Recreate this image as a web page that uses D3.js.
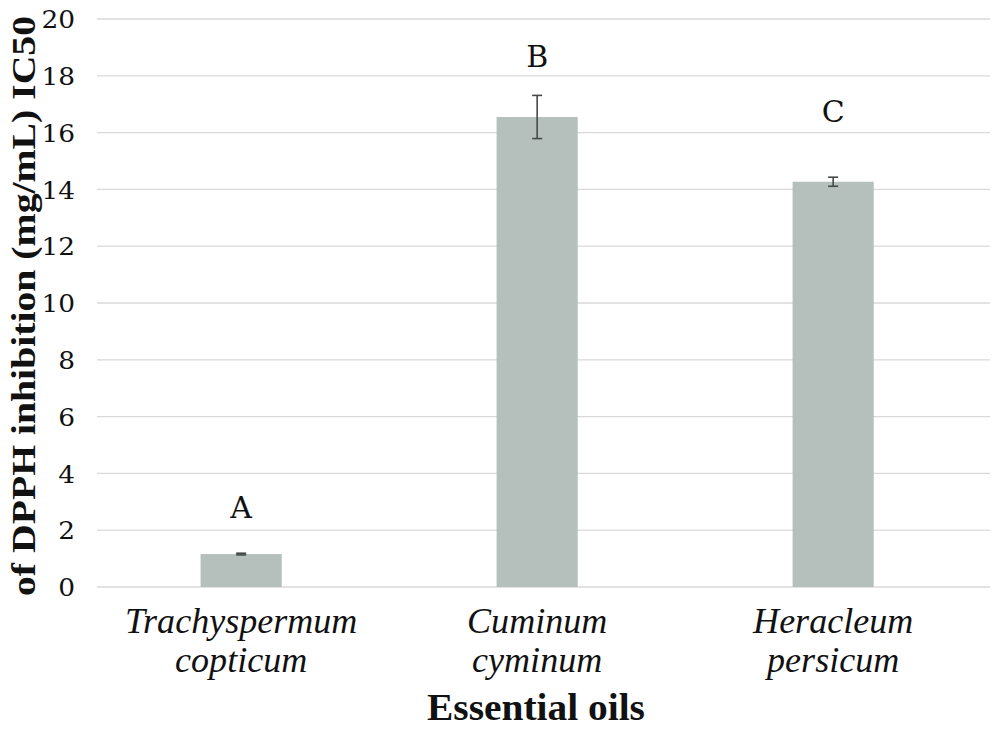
<!DOCTYPE html>
<html><head><meta charset="utf-8">
<script src="https://cdn.jsdelivr.net/npm/d3@7"></script>
<style>body{margin:0;background:#fff}svg{display:block}</style>
</head><body>
<svg id="chart" width="1000" height="733"></svg>
<script>
const categories = [["Trachyspermum","copticum"],["Cuminum","cyminum"],["Heracleum","persicum"]];
const values = [1.16, 16.55, 14.27];
const errors = [0.03, 0.76, 0.16];
const letters = ["A","B","C"];
const letterLevels = [2.43, 18.31, 16.37];
const yTicks = [0,2,4,6,8,10,12,14,16,18,20];
const yTitle = "of DPPH inhibition (mg/mL) IC50";
const xTitle = "Essential oils";

const svg = d3.select("#chart");
const W = 1000, H = 733;
const gridLeft = 97, gridRight = 990;
const x = d3.scaleBand().domain(d3.range(categories.length)).range([97, 977.3])
  .paddingInner(0.726).paddingOuter(0.35);
const y = d3.scaleLinear().domain([0,20]).range([587, 19]);

function fitWidth(sel, target){
  sel.each(function(){
    const w = this.getComputedTextLength();
    const k = target / w;
    const t = d3.select(this).attr("transform") || "";
    d3.select(this).attr("transform", t + ` scale(${k},1)`);
  });
}

// gridlines
svg.append("g").selectAll("line").data(yTicks).join("line")
  .attr("x1", gridLeft).attr("x2", gridRight)
  .attr("y1", d=>y(d)).attr("y2", d=>y(d))
  .attr("stroke", "#d9d9d9").attr("stroke-width", 1.3);

// y tick labels
const yAxis = d3.axisLeft(y).tickValues(yTicks).tickSize(0).tickPadding(0);
const ga = svg.append("g").attr("transform", `translate(75,0)`).call(yAxis);
ga.select(".domain").remove();
ga.selectAll(".tick text").attr("x", null)
  .attr("font-family","DejaVu Serif, serif").attr("font-size",24).attr("fill","#111").attr("dy","0.36em")
  .attr("transform","scale(1.1,1)");

// bars
svg.append("g").selectAll("rect").data(values).join("rect")
  .attr("x", (d,i)=>x(i)).attr("width", x.bandwidth())
  .attr("y", d=>y(d)).attr("height", d=>y(0)-y(d))
  .attr("fill", "#b5c0bc");

// error bars
const eg = svg.append("g").attr("stroke","#454a49").attr("stroke-width",1.6);
values.forEach((v,i)=>{
  const cx = x(i)+x.bandwidth()/2;
  const e = errors[i];
  eg.append("line").attr("x1",cx).attr("x2",cx).attr("y1",y(v+e)).attr("y2",y(v-e));
  eg.append("line").attr("x1",cx-5).attr("x2",cx+5).attr("y1",y(v+e)).attr("y2",y(v+e));
  eg.append("line").attr("x1",cx-5).attr("x2",cx+5).attr("y1",y(v-e)).attr("y2",y(v-e));
});

// letters
svg.append("g").selectAll("text").data(letters).join("text")
  .attr("x",(d,i)=>x(i)+x.bandwidth()/2)
  .attr("y",(d,i)=>y(letterLevels[i]))
  .attr("text-anchor","middle")
  .attr("font-family","DejaVu Serif, serif").attr("font-size",30).attr("fill","#111")
  .text(d=>d);

// category labels
const cg = svg.append("g");
categories.forEach((c,i)=>{
  const cx = x(i)+x.bandwidth()/2;
  c.forEach((t,j)=>{
    cg.append("text")
      .attr("transform",`translate(${cx},${633+j*39}) scale(1.03,1)`)
      .attr("text-anchor","middle")
      .attr("font-family","Liberation Serif, serif").attr("font-style","italic").attr("font-size",35)
      .attr("fill","#111")
      .text(t);
  });
});

// x title
svg.append("text").attr("transform","translate(536,720)")
  .attr("text-anchor","middle")
  .attr("font-family","Liberation Serif, serif").attr("font-weight","bold").attr("font-size",37)
  .attr("fill","#111").text(xTitle).call(fitWidth, 218);

// y title
svg.append("text").attr("transform","translate(35,306) rotate(-90)")
  .attr("text-anchor","middle")
  .attr("font-family","Liberation Serif, serif").attr("font-weight","bold").attr("font-size",33)
  .attr("fill","#111").text(yTitle).call(fitWidth, 580);
</script>
</body></html>
